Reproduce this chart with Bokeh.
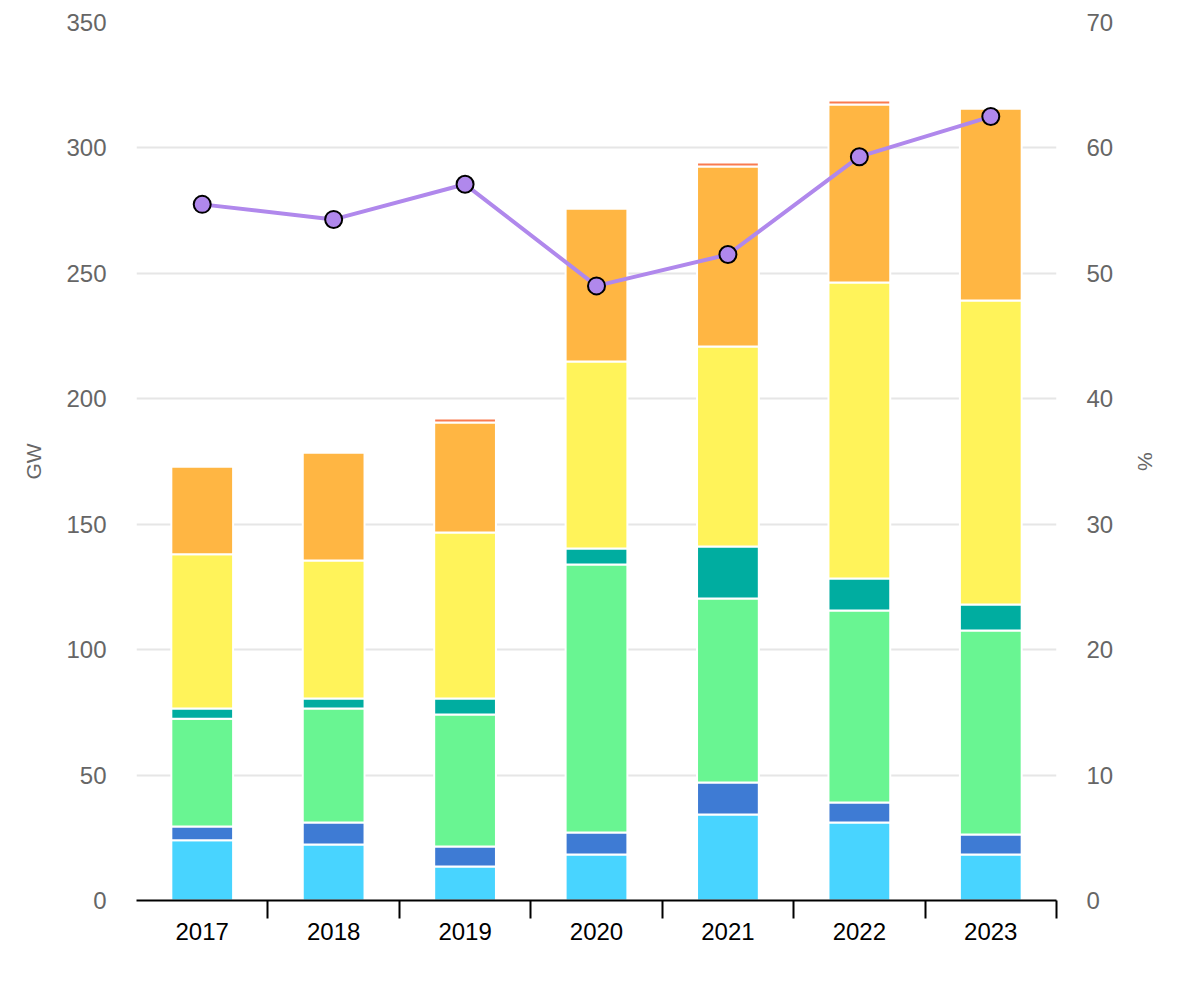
from bokeh.plotting import figure
from bokeh.models import ColumnDataSource, Range1d, LinearAxis, FixedTicker
from bokeh.embed import file_html
from bokeh.resources import INLINE

years = ["2017", "2018", "2019", "2020", "2021", "2022", "2023"]
s_lightblue = [24.0, 22.3, 13.6, 18.3, 34.3, 31.1, 18.3]
s_blue = [5.5, 8.8, 7.9, 8.8, 12.7, 8.0, 8.0]
s_green = [43.0, 45.4, 52.6, 106.8, 73.4, 76.5, 81.3]
s_teal = [4.0, 4.0, 6.4, 6.4, 20.7, 12.8, 10.4]
s_yellow = [61.5, 55.0, 66.2, 74.6, 79.7, 118.0, 121.2]
s_orange = [35.0, 43.1, 43.8, 61.0, 71.8, 70.9, 76.5]
s_red = [0.0, 0.0, 1.6, 0.0, 1.6, 1.6, 0.0]
share_pct = [55.5, 54.3, 57.1, 49.0, 51.5, 59.3, 62.5]

left_ticks = [0, 50, 100, 150, 200, 250, 300, 350]
right_ticks = [0, 10, 20, 30, 40, 50, 60, 70]

keys = ["lightblue", "blue", "green", "teal", "yellow", "orange", "red"]
colors = ["#48d4ff", "#3e7bd4", "#69f592", "#00ada0", "#fff35a", "#ffb643", "#f97b4f"]

xpos = [i + 0.5 for i in range(len(years))]
data = dict(x=xpos, lightblue=s_lightblue, blue=s_blue, green=s_green, teal=s_teal,
            yellow=s_yellow, orange=s_orange, red=s_red, pct=share_pct)
source = ColumnDataSource(data)

FONT = "Liberation Sans"

p = figure(width=1186, height=970, x_range=Range1d(0, len(years)), y_range=Range1d(0, 350),
           output_backend="svg", toolbar_location=None, min_border_left=136,
           min_border_top=22, min_border_bottom=70, min_border_right=130)
p.outline_line_color = None
p.extra_y_ranges = {"pct": Range1d(0, 70)}

p.vbar_stack(keys, x="x", width=0.47, source=source, color=colors,
             line_color="white", line_width=2)

p.line(x="x", y="pct", source=source, y_range_name="pct", line_color="#b088ec", line_width=4)
p.scatter(x="x", y="pct", source=source, y_range_name="pct", size=17,
          fill_color="#b088ec", line_color="black", line_width=2)

# x axis
xa = p.xaxis[0]
xa.ticker = FixedTicker(ticks=xpos, minor_ticks=list(range(1, len(years) + 1)))
xa.major_label_overrides = {x: y for x, y in zip(xpos, years)}
xa.major_tick_out = 0
xa.major_tick_in = 0
xa.minor_tick_out = 18
xa.minor_tick_in = 0
xa.minor_tick_line_color = "black"
xa.minor_tick_line_width = 2
xa.axis_line_color = "black"
xa.axis_line_width = 2
xa.major_label_text_font = FONT
xa.major_label_text_font_size = "24px"
xa.major_label_text_color = "black"
xa.major_label_standoff = 4

# left axis
ya = p.yaxis[0]
ya.ticker = FixedTicker(ticks=left_ticks)
ya.axis_line_color = None
ya.major_tick_line_color = None
ya.minor_tick_line_color = None
ya.major_label_text_font = FONT
ya.major_label_text_font_size = "24px"
ya.major_label_text_color = "#666666"
ya.major_label_standoff = 24
ya.axis_label = "GW"
ya.axis_label_text_font = FONT
ya.axis_label_text_font_size = "21px"
ya.axis_label_text_font_style = "normal"
ya.axis_label_text_color = "#666666"
ya.axis_label_standoff = 18

# right axis
ra = LinearAxis(y_range_name="pct", ticker=FixedTicker(ticks=right_ticks))
ra.axis_line_color = None
ra.major_tick_line_color = None
ra.minor_tick_line_color = None
ra.major_label_text_font = FONT
ra.major_label_text_font_size = "24px"
ra.major_label_text_color = "#666666"
ra.major_label_standoff = 24
ra.axis_label = "%"
ra.axis_label_text_font = FONT
ra.axis_label_text_font_size = "21px"
ra.axis_label_text_font_style = "normal"
ra.axis_label_text_color = "#666666"
ra.axis_label_standoff = 18
p.add_layout(ra, "right")

p.xgrid.grid_line_color = None
p.ygrid.ticker = FixedTicker(ticks=left_ticks[1:])
p.ygrid.grid_line_color = "#e6e6e6"
p.ygrid.grid_line_width = 2

open("out.html", "w").write(file_html(p, INLINE))
